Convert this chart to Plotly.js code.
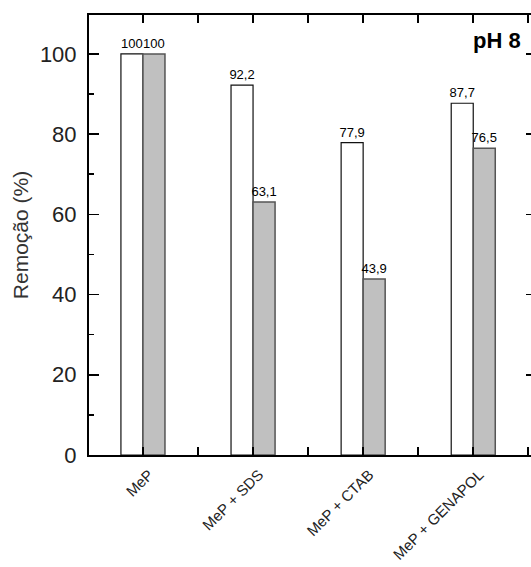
<!DOCTYPE html>
<html>
<head>
<meta charset="utf-8">
<script src="https://cdn.plot.ly/plotly-3.0.1.min.js"></script>
<style>
  html, body { margin: 0; padding: 0; overflow: hidden; background: #fff; }
  #chart { width: 540px; height: 567px; }
</style>
</head>
<body>
<div id="chart"></div>
<script>
const categories = ['MeP', 'MeP + SDS', 'MeP + CTAB', 'MeP + GENAPOL'];
const seriesWhite = [100, 92.2, 77.9, 87.7];
const seriesGray = [100, 63.1, 43.9, 76.5];
const yTickVals = [0, 20, 40, 60, 80, 100];
const panelLabel = 'pH 8';
const yTitle = 'Remoção (%)';

const xPos = categories.map((_, i) => i);
const fmt = v => String(v).replace('.', ',');
const FONT = '"Liberation Sans", Arial, sans-serif';

const xRange = [-0.49, 3.57];

const traces = [
  {
    type: 'bar', x: xPos, y: seriesWhite,
    text: seriesWhite.map(fmt), textposition: 'outside', cliponaxis: false, constraintext: 'none',
    textfont: { family: FONT, size: 13, color: '#000' },
    marker: { color: '#ffffff', line: { color: '#111', width: 1.2 } },
    hoverinfo: 'skip', showlegend: false
  },
  {
    type: 'bar', x: xPos, y: seriesGray,
    text: seriesGray.map(fmt), textposition: 'outside', cliponaxis: false, constraintext: 'none',
    textfont: { family: FONT, size: 13, color: '#000' },
    marker: { color: '#c0c0c0', line: { color: '#555', width: 1.5 } },
    hoverinfo: 'skip', showlegend: false
  }
];

const layout = {
  width: 540, height: 567,
  margin: { l: 89, r: 4, t: 15, b: 112 },
  paper_bgcolor: '#fff', plot_bgcolor: '#fff',
  font: { family: FONT, color: '#111' },
  barmode: 'group', bargap: 0.6, bargroupgap: 0,
  xaxis: {
    range: xRange, showgrid: false, zeroline: false,
    showline: true, linecolor: '#000', linewidth: 2, mirror: 'allticks',
    tickmode: 'array', tickvals: xPos, ticktext: categories,
    ticks: 'inside', ticklen: 8, tickwidth: 2, tickcolor: '#000',
    minor: { tickmode: 'linear', tick0: 0.5, dtick: 1, ticks: 'inside', ticklen: 8, tickwidth: 2, tickcolor: '#000' },
    tickangle: -45, tickfont: { family: FONT, size: 15, color: '#222' },
    ticklabelshift: 6, ticklabelstandoff: 3,
    fixedrange: true
  },
  yaxis: {
    range: [0, 109.7], showgrid: false, zeroline: false,
    showline: true, linecolor: '#000', linewidth: 2, mirror: 'ticks',
    tickmode: 'array', tickvals: yTickVals,
    ticks: 'inside', ticklen: 10, tickwidth: 1.5, tickcolor: '#000',
    minor: { tickmode: 'linear', tick0: 0, dtick: 10, ticks: 'inside', ticklen: 5, tickwidth: 1.5, tickcolor: '#000' },
    tickfont: { family: FONT, size: 22, color: '#222' },
    ticklabelstandoff: 6,
    title: { text: yTitle, font: { family: FONT, size: 21, color: '#333' }, standoff: 6 },
    fixedrange: true
  },
  annotations: [
    { text: '<b>' + panelLabel + '</b>', xref: 'paper', yref: 'paper', x: 0.972, y: 0.941,
      xanchor: 'right', yanchor: 'middle', showarrow: false,
      font: { family: FONT, size: 22, color: '#000' } }
  ]
};

Plotly.newPlot('chart', traces, layout, { displayModeBar: false, staticPlot: true });
</script>
</body>
</html>
